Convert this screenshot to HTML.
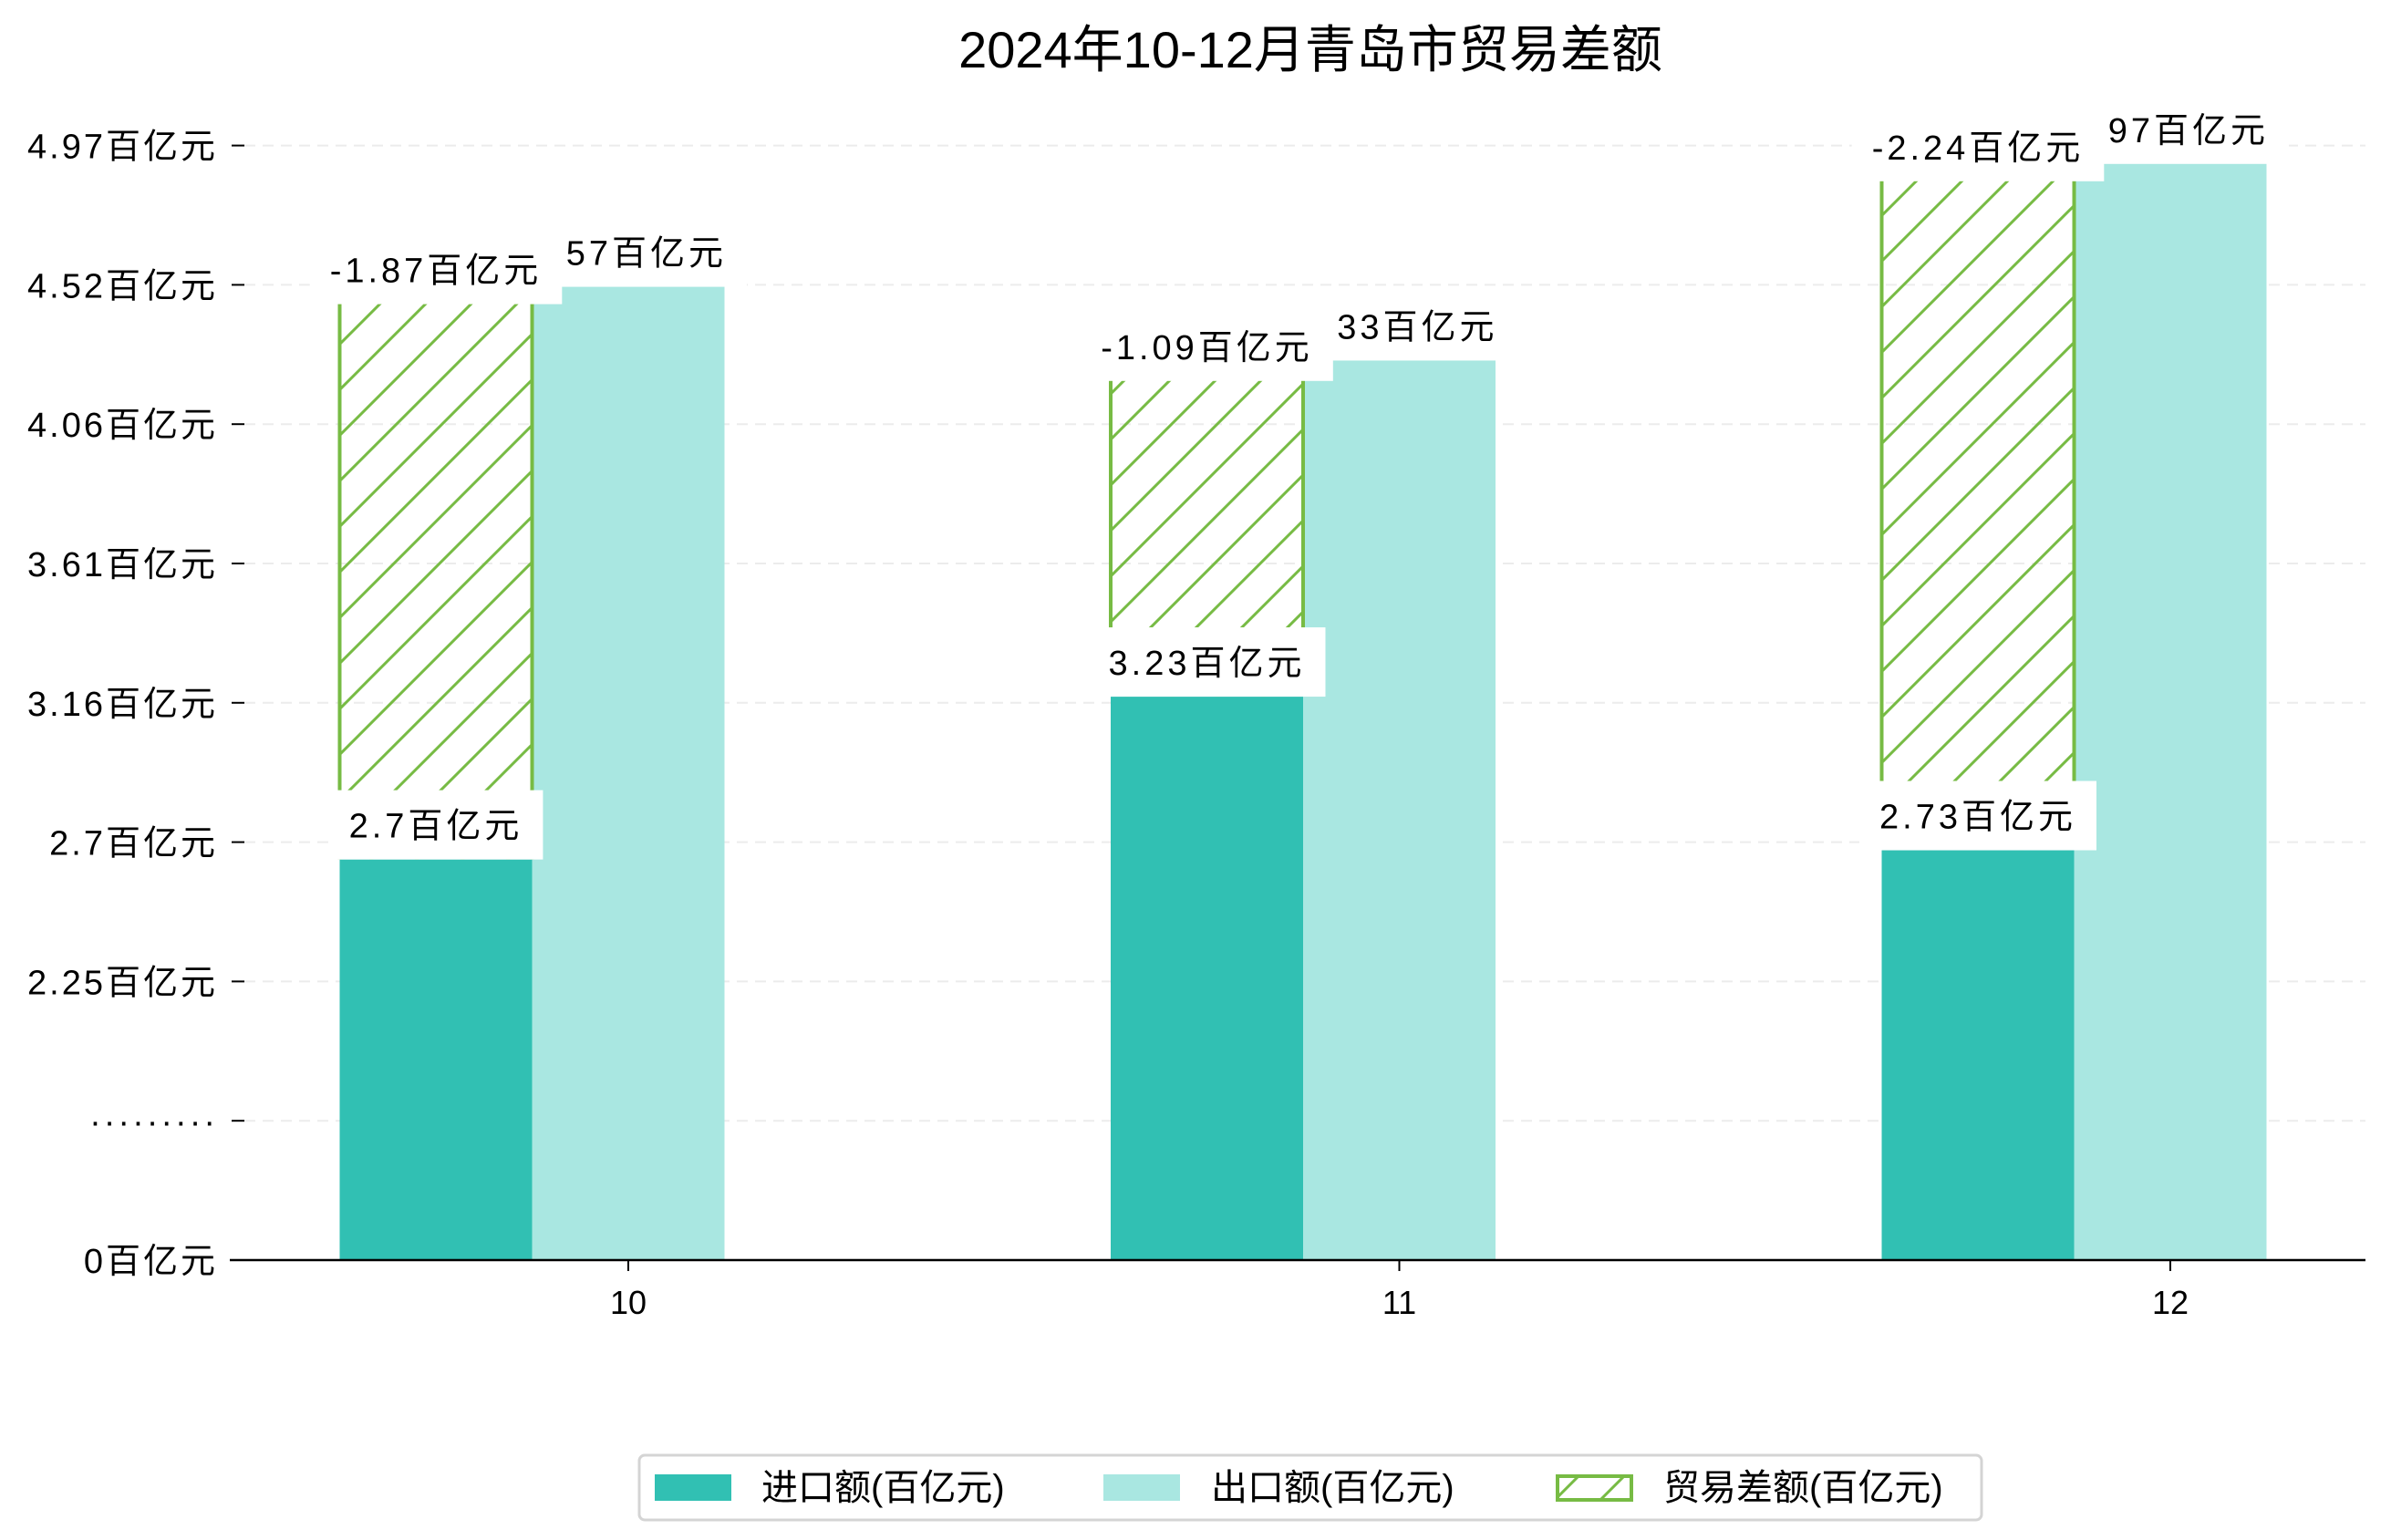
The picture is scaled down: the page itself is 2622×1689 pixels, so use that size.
<!DOCTYPE html>
<html><head><meta charset="utf-8">
<style>
html,body{margin:0;padding:0;background:#fff;}
svg{display:block;}
text{font-family:"WenQuanYi Zen Hei","Liberation Sans","Noto Sans CJK SC",sans-serif;fill:#000;}
</style></head>
<body>
<svg id="chart" width="2622" height="1689" viewBox="0 0 2622 1689" xmlns="http://www.w3.org/2000/svg">
<defs>
<pattern id="hatch" patternUnits="userSpaceOnUse" width="50" height="50">
<path d="M-5,5 L5,-5 M0,50 L50,0 M45,55 L55,45" stroke="#77bb44" stroke-width="3"/>
</pattern>
</defs>
<text x="1437" y="74" font-size="56" text-anchor="middle">2024年10-12月青岛市贸易差额</text>
<g id="grid"></g><g id="yaxis"></g><g id="bars"></g><g id="labels"></g><g id="xaxis"></g>
<g>
<rect x="701" y="1596" width="1472" height="71" rx="6" fill="#fff" stroke="#d4d4d4" stroke-width="3"/>
<g>
<rect x="718" y="1617" width="84" height="29" fill="#31c0b3"/>
<text x="835" y="1645" font-size="40">进口额(百亿元)</text></g>
<g>
<rect x="1210" y="1617" width="84" height="29" fill="#a9e7e1"/>
<text x="1328" y="1645" font-size="40">出口额(百亿元)</text></g>
<g>
<rect x="1708" y="1619" width="81" height="26" fill="url(#hatch)" stroke="#77bb44" stroke-width="4"/>
<text x="1824" y="1645" font-size="40">贸易差额(百亿元)</text></g>
</g>
</svg>
<script>
const categories = ["10", "11", "12"];
const importValues = [2.70, 3.23, 2.73];
const exportValues = [4.57, 4.33, 4.97];
const balanceValues = [-1.87, -1.09, -2.24];
const yTickLabels = ["0百亿元", "·········", "2.25百亿元", "2.7百亿元", "3.16百亿元", "3.61百亿元", "4.06百亿元", "4.52百亿元", "4.97百亿元"];

const NS = "http://www.w3.org/2000/svg";
const Y0 = 1382, TICKSP = 152.8, VOFF = 1.396, VSTEP = 0.4535;
const X0 = 689, XSTEP = 845.5, BW = 211;
function yScale(v){ return Y0 - (v - VOFF) / VSTEP * TICKSP; }
function yTick(i){ return Y0 - i * TICKSP; }
function xScale(i){ return X0 + i * XSTEP; }
function mk(tag, attrs, parent){ const e=document.createElementNS(NS,tag); for(const k in attrs) e.setAttribute(k,attrs[k]); parent.appendChild(e); return e; }
const grid=document.getElementById('grid'), yaxis=document.getElementById('yaxis'), bars=document.getElementById('bars'), labels=document.getElementById('labels'), xaxis=document.getElementById('xaxis');

yTickLabels.forEach((lab,i)=>{
  const y=yTick(i);
  if(i>0){
    const g=mk('line',{x1:268,x2:2594,y1:y,y2:y,stroke:'#ececec','stroke-width':2,'stroke-dasharray':'12,8'},grid);
    
    
  }
  const t=mk('line',{x1:254,x2:268,y1:y,y2:y,stroke:'#000','stroke-width':2},yaxis);
  
  
  const tx=mk('text',{x:239,y:y+14,'font-size':38,'text-anchor':'end','letter-spacing':3},yaxis);
  tx.textContent=lab;
  
  
});

function label(txt, cx, cy, name){
  const t=mk('text',{x:cx,y:cy+14,'font-size':38,'text-anchor':'middle','letter-spacing':4},labels);
  t.textContent=txt;
  const bb=t.getBBox();
  const r=document.createElementNS(NS,'rect');
  r.setAttribute('x',bb.x-22); r.setAttribute('y',cy-38); r.setAttribute('width',bb.width+44); r.setAttribute('height',76); r.setAttribute('fill','#fff');
  labels.insertBefore(r,t);
  
  
  
  
}

categories.forEach((c,i)=>{
  const cx=xScale(i);
  const it=yScale(importValues[i]);
  const ib=mk('rect',{x:cx-BW*1.5,y:it,width:BW,height:Y0-it,fill:'#31c0b3'},bars);
  
  
  const et=yScale(exportValues[i]);
  const eb=mk('rect',{x:cx-BW*0.5,y:et,width:BW,height:Y0-et,fill:'#a9e7e1'},bars);
  
  
  const ht=yScale(importValues[i]+Math.abs(balanceValues[i]));
  const hb=mk('rect',{x:cx-BW*1.5,y:ht,width:BW,height:it-ht,fill:'url(#hatch)'},bars);
  
  
  const e1=mk('line',{x1:cx-BW*1.5,x2:cx-BW*1.5,y1:ht,y2:it,stroke:'#77bb44','stroke-width':4},bars);
  
  
  const e2=mk('line',{x1:cx-BW*0.5,x2:cx-BW*0.5,y1:ht,y2:it,stroke:'#77bb44','stroke-width':4},bars);
  
  
  label(importValues[i]+'百亿元', cx-BW, it-38, 'import-value-label');
  label(exportValues[i]+'百亿元', cx, et-36, 'export-value-label');
  label(balanceValues[i]+'百亿元', cx-BW, ht-17, 'balance-value-label');
  const tk=mk('line',{x1:cx,x2:cx,y1:Y0,y2:Y0+12,stroke:'#000','stroke-width':2},xaxis);
  
  
  const tl=mk('text',{x:cx,y:Y0+59,'font-size':36,'text-anchor':'middle'},xaxis);
  tl.textContent=c;
  
  
});
const ax=mk('line',{x1:252,x2:2594,y1:Y0,y2:Y0,stroke:'#000','stroke-width':2.5},xaxis);


</script>
</body></html>
